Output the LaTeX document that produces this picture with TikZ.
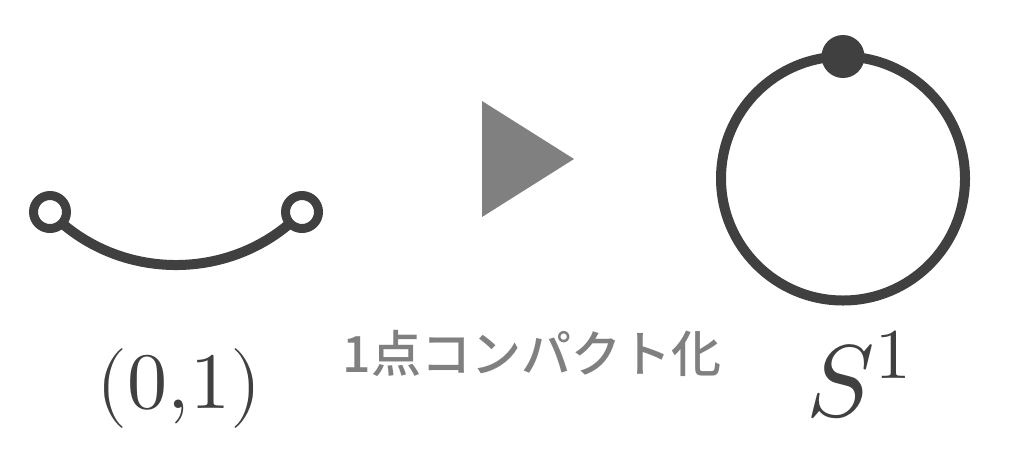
\documentclass[tikz,border=0pt]{standalone}
\usepackage{fontspec}
\usepackage{unicode-math}
\newfontfamily\jpfont{Noto Sans CJK JP Medium}
\usetikzlibrary{positioning, backgrounds}
\definecolor{darkline}{HTML}{404040}
\definecolor{arrowgray}{HTML}{808080}

\begin{document}
\begin{tikzpicture}[
    x=1pt, y=-1pt,
    every node/.style={inner sep=0pt, outer sep=0pt},
    endpoint/.style={circle, draw=darkline, fill=white, line width=9pt, minimum size=33pt},
    basepoint/.style={circle, fill=darkline, minimum size=43pt},
    mathlabel/.style={text=darkline, anchor=base}
]
    \useasboundingbox (0,0) rectangle (1024,448);

    % Open interval
    \node[endpoint] (lend) at (50,212) {};
    \node[endpoint] (rend) at (302,212) {};
    \begin{scope}[on background layer]
        \draw[darkline, line width=10pt] (lend.center) to[bend right=46] (rend.center);
    \end{scope}
    \node[mathlabel, font=\fontsize{80}{96}\selectfont] (interval) at (179,408) {$(0{,}1)$};

    % Arrow
    \fill[arrowgray] (482,101) -- (574,159) -- (482,217) -- cycle;
    \node[anchor=base, text=arrowgray, font=\jpfont\fontsize{50}{60}\selectfont] (compactify) at (532,372) {1点コンパクト化};

    % Circle with the added point
    \node[circle, draw=darkline, line width=10pt, minimum size=244pt] (ring) at (843,178.5) {};
    \node[basepoint] (infty) at (ring.north) {};
    \node[mathlabel, font=\fontsize{102}{120}\selectfont] (circlelabel) at (859,416) {$S^1$};
\end{tikzpicture}
\end{document}
